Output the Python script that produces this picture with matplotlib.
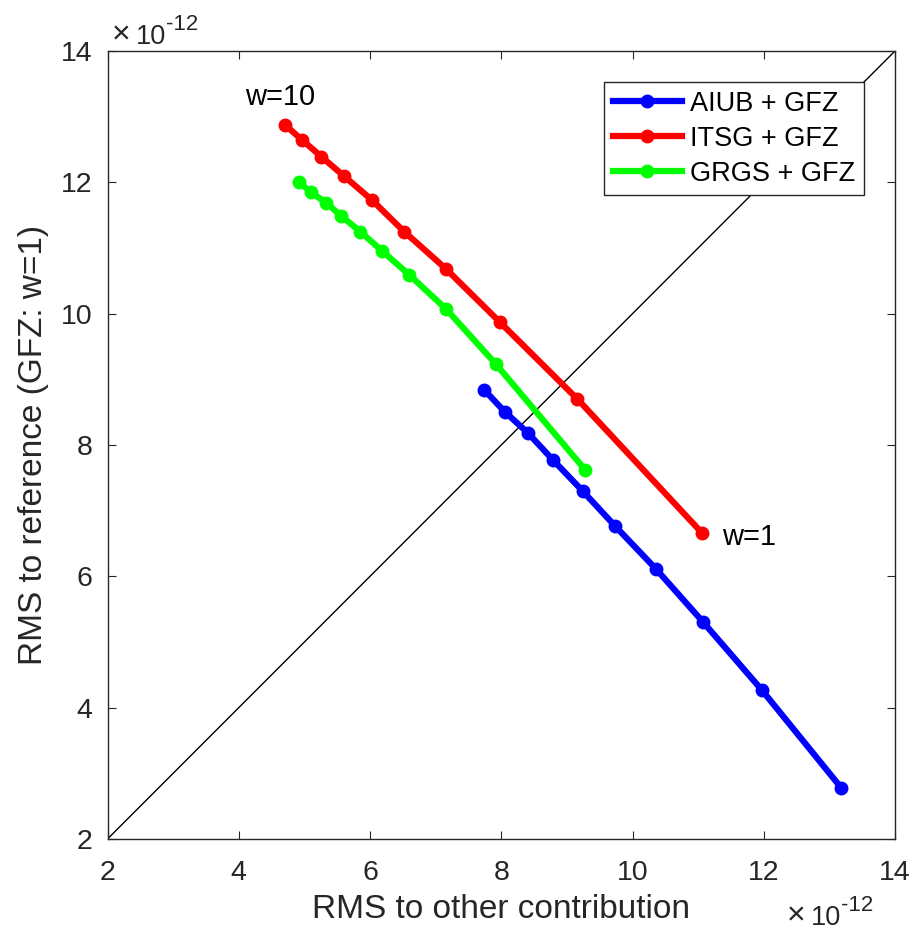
import numpy as np
import matplotlib
matplotlib.use("Agg")
import matplotlib.pyplot as plt

plt.rcParams['font.family'] = ['Liberation Sans', 'DejaVu Sans']

# values in units of 1e-12, ordered from w=10 to w=1
aiub_x = [7.74, 8.05, 8.41, 8.79, 9.24, 9.74, 10.36, 11.07, 11.97, 13.18]
aiub_y = [8.84, 8.51, 8.18, 7.77, 7.30, 6.76, 6.11, 5.31, 4.27, 2.78]
itsg_x = [4.71, 4.96, 5.26, 5.61, 6.03, 6.52, 7.16, 7.98, 9.16, 11.06]
itsg_y = [12.87, 12.65, 12.39, 12.09, 11.73, 11.25, 10.68, 9.87, 8.70, 6.66]
grgs_x = [4.92, 5.10, 5.33, 5.56, 5.85, 6.18, 6.60, 7.16, 7.92, 9.28]
grgs_y = [12.00, 11.85, 11.69, 11.49, 11.25, 10.96, 10.59, 10.07, 9.23, 7.62]
labels = ['AIUB + GFZ', 'ITSG + GFZ', 'GRGS + GFZ']
colors = ['#0000ff', '#ff0000', '#00ff00']

W, H = 911, 932
fig = plt.figure(figsize=(W / 100, H / 100), dpi=100)
ax = fig.add_axes([107.5 / W, 1 - 839 / H, 787.5 / W, 788 / H])

ax.plot([2, 14], [2, 14], color='black', lw=1)
for xs, ys, lab, c in zip([aiub_x, itsg_x, grgs_x], [aiub_y, itsg_y, grgs_y], labels, colors):
    ax.plot(xs, ys, '-o', color=c, lw=4.5, ms=9, label=lab)

ax.text(4.095, 13.18, 'w=10', fontsize=21, va='baseline', ha='left')
ax.text(11.36, 6.48, 'w=1', fontsize=21, va='baseline', ha='left')

ax.set_xlim(2, 14)
ax.set_ylim(2, 14)
ax.set_xticks(range(2, 15, 2))
ax.set_yticks(range(2, 15, 2))
ax.tick_params(direction='in', top=True, right=True, labelsize=20.5, length=6,
               color='#262626', labelcolor='#262626')
ax.tick_params(axis='x', pad=15)
ax.tick_params(axis='y', pad=11)
for s in ax.spines.values():
    s.set_color('#262626')
    s.set_linewidth(1)

ax.set_xlabel('RMS to other contribution', fontsize=24, color='#262626', labelpad=6)
ax.set_ylabel('RMS to reference (GFZ: w=1)', fontsize=24, color='#262626', labelpad=8)


def exponent(x0, base):
    # MATLAB style "x10^-12" built from pieces (pixel positions)
    kw = dict(color='#262626', va='baseline', ha='left')
    fig.text((x0 - 1) / W, 1 - (base - 1) / H, '\u00d7', fontsize=23, **kw)
    fig.text((x0 + 23) / W, 1 - base / H, '10', fontsize=19.5, **kw)
    fig.text((x0 + 53) / W, 1 - (base - 14) / H, '-12', fontsize=16, **kw)


exponent(113, 44)
exponent(788, 925)

leg = ax.legend(loc='upper right', fontsize=19.5, frameon=True, fancybox=False,
                edgecolor='#262626', framealpha=1, borderaxespad=1.15,
                handlelength=2.55, labelspacing=0.33, borderpad=0.32, handletextpad=0.3)
leg.get_frame().set_linewidth(1)

fig.savefig('out.png', dpi=100)
